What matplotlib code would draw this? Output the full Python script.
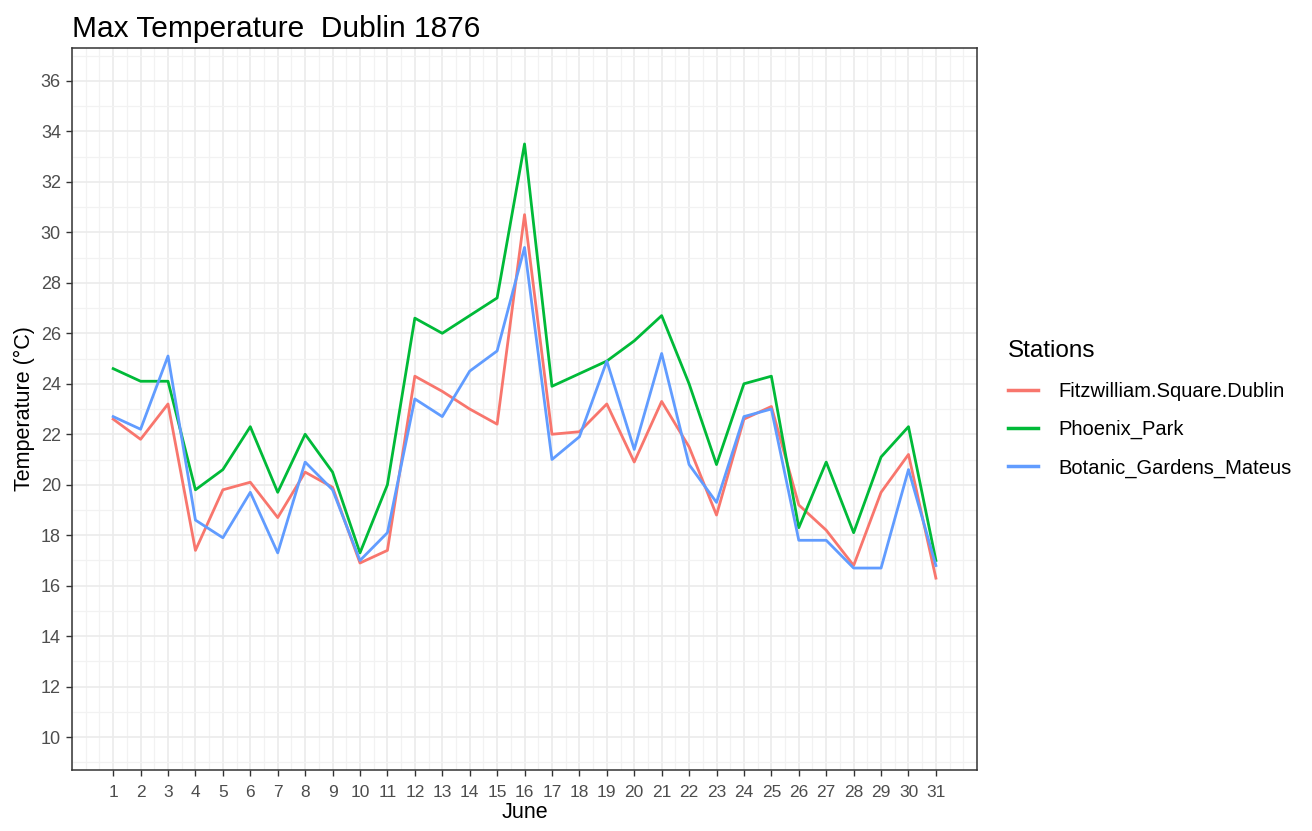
import numpy as np
import matplotlib.pyplot as plt
from matplotlib.ticker import MultipleLocator

plt.rcParams['font.family'] = ['Liberation Sans', 'DejaVu Sans']

# Datos (temperatura máxima, junio 1876)
days = list(range(1, 32))
fitzwilliam = [22.6, 21.8, 23.2, 17.4, 19.8, 20.1, 18.7, 20.5, 19.9, 16.9,
               17.4, 24.3, 23.7, 23.0, 22.4, 30.7, 22.0, 22.1, 23.2, 20.9,
               23.3, 21.5, 18.8, 22.6, 23.1, 19.2, 18.2, 16.8, 19.7, 21.2, 16.3]
phoenix = [24.6, 24.1, 24.1, 19.8, 20.6, 22.3, 19.7, 22.0, 20.5, 17.3,
           20.0, 26.6, 26.0, 26.7, 27.4, 33.5, 23.9, 24.4, 24.9, 25.7,
           26.7, 24.0, 20.8, 24.0, 24.3, 18.3, 20.9, 18.1, 21.1, 22.3, 17.0]
botanic = [22.7, 22.2, 25.1, 18.6, 17.9, 19.7, 17.3, 20.9, 19.8, 17.0,
           18.1, 23.4, 22.7, 24.5, 25.3, 29.4, 21.0, 21.9, 24.9, 21.4,
           25.2, 20.8, 19.3, 22.7, 23.0, 17.8, 17.8, 16.7, 16.7, 20.6, 16.8]
stations = ['Fitzwilliam.Square.Dublin', 'Phoenix_Park', 'Botanic_Gardens_Mateus']
colors = ['#F8766D', '#00BA38', '#619CFF']

fig = plt.figure(figsize=(13.12, 8.31), dpi=100)
ax = fig.add_axes([0.0549, 0.0734, 0.6898, 0.8688])

for serie, nombre, c in zip([fitzwilliam, phoenix, botanic], stations, colors):
    ax.plot(days, serie, color=c, lw=2.0, label=nombre)

ax.set_xlim(-0.5, 32.5)
ax.set_ylim(8.7, 37.3)
ax.set_xticks(days)
ax.set_yticks(np.arange(10, 37, 2))
ax.xaxis.set_minor_locator(MultipleLocator(0.5))
ax.yaxis.set_minor_locator(MultipleLocator(1))
ax.grid(which='major', color='#EBEBEB', lw=1.2)
ax.grid(which='minor', color='#F2F2F2', lw=0.9)
ax.set_axisbelow(True)
ax.tick_params(which='major', length=4, width=1, color='#333333',
               labelsize=13, labelcolor='#4D4D4D', pad=4)
ax.tick_params(axis='x', labelsize=12.5, pad=7)
ax.tick_params(which='minor', length=0)
for s in ax.spines.values():
    s.set_color('#333333')
    s.set_linewidth(1.1)

ax.set_xlabel('June', fontsize=15.5, labelpad=1)
ax.set_ylabel('Temperature (°C)', fontsize=15.5, labelpad=4)
ax.set_title('Max Temperature  Dublin 1876', fontsize=21.5, loc='left', pad=8)

leg = ax.legend(title='Stations', loc='center left', bbox_to_anchor=(1.014, 0.5),
                frameon=False, fontsize=14.5, title_fontsize=17.5,
                handlelength=1.5, handletextpad=1.0, labelspacing=0.95)
leg._legend_box.align = 'left'
leg._legend_box.sep = 14
for ln in leg.get_lines():
    ln.set_linewidth(2.5)

fig.savefig('out.png', dpi=100)
